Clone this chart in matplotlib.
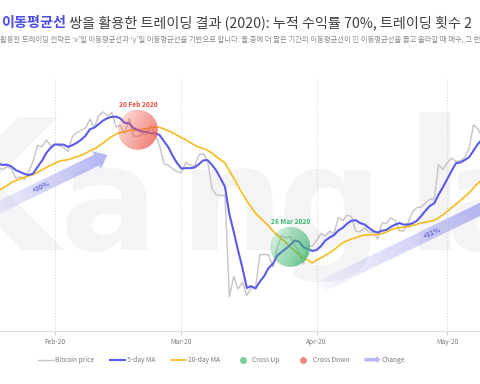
import numpy as np
import pandas as pd
import matplotlib
matplotlib.use('Agg')
import matplotlib.pyplot as plt
import matplotlib.dates as mdates
import matplotlib.patches as mpatches
import matplotlib.transforms as mtransforms
from matplotlib.lines import Line2D
from matplotlib.legend_handler import HandlerPatch

plt.rcParams['font.family'] = ['Noto Sans CJK KR', 'DejaVu Sans']

# daily bitcoin close (USD), 30 Dec 2019 .. 10 May 2020
price_dec = [7293, 7193]
price_jan = [7200, 6985, 7345, 7410, 7411, 7769, 8163, 8079, 7879, 8166,
             8037, 8192, 8144, 8827, 8807, 8723, 8929, 8942, 8706, 8658,
             8745, 8680, 8406, 8445, 8367, 8596, 8910, 9358, 9316, 9508, 9350]
price_feb = [9392, 9344, 9293, 9180, 9613, 9729, 9795, 9865, 10116, 9856,
             10208, 10326, 10214, 10312, 9889, 9934, 9690, 10141, 9633, 9608,
             9686, 9663, 9924, 9650, 9341, 8820, 8784, 8672, 8599]
price_mar = [8562, 8869, 8787, 8755, 9078, 9122, 8909, 8108, 7923, 7909,
             7911, 4970, 5563, 5200, 5392, 5014, 5225, 5238, 6191, 6198,
             6185, 5830, 6416, 6734, 6681, 6716, 6469, 6242, 5922, 6429, 6438]
price_apr = [6606, 6793, 6733, 6868, 6791, 7271, 7176, 7334, 7302, 6865,
             6859, 6971, 6845, 6842, 6642, 7116, 7096, 7257, 7189, 6881,
             6880, 7117, 7429, 7550, 7569, 7679, 7795, 7807, 8801, 8658]
price_may = [8864, 8988, 8897, 8912, 9003, 9268, 9951, 9842, 9593, 8756]

values = price_dec + price_jan + price_feb + price_mar + price_apr + price_may
prices = pd.Series(values, index=pd.date_range('2019-12-30', periods=len(values), freq='D'))
ma5 = prices.rolling(5).mean()
ma20 = prices.rolling(20).mean()

cross_down = '2020-02-20'
cross_up = '2020-03-26'
# (start date, start value), (end date, end value), label, label position along arrow
changes = [(('2020-01-15', 7310), ('2020-02-13', 9080), '+30%', 0.48),
           (('2020-04-02', 5270), ('2020-05-13', 7780), '+31%', 0.62)]

# watermark letters: (letter, left edge in px, font size)
watermark = [('K', -82, 130), ('a', 60, 105), ('n', 180, 105), ('g', 278, 105),
             ('l', 404, 130), ('a', 445, 105)]

fig = plt.figure(figsize=(4.8, 3.84), dpi=100)
ax = fig.add_axes([0, 0.138, 1, 0.659])
ax.set_xlim(pd.Timestamp('2020-01-19 09:00'), pd.Timestamp('2020-05-08 12:00'))
ax.set_ylim(3980, 11310)
ax.set_autoscale_on(False)

for ch, left, size in watermark:
    ax.text(left / 480, 0.32, ch, transform=ax.transAxes, fontsize=size,
            fontweight='bold', family='DejaVu Sans', color='#f4f4f6', va='baseline', zorder=0)

ax.plot(prices.index, prices.values, color='#c4c4c4', lw=1.0, zorder=2)
ax.plot(ma20.index, ma20.values, color='#f4bc1c', lw=1.2, zorder=3)
ax.plot(ma5.index, ma5.values, color='#5a5ae8', lw=1.5, zorder=3)

ident = mtransforms.IdentityTransform()
inv = ax.transData.inverted()


def to_px(date, value):
    return ax.transData.transform((mdates.date2num(pd.Timestamp(date)), value))


def glow(date, rgb, label, text_color):
    value = ma20[date]
    cx, cy = to_px(date, value)
    r = 20
    x0, y0 = inv.transform((cx - r, cy - r))
    x1, y1 = inv.transform((cx + r, cy + r))
    u = np.linspace(0, 1, 64)
    X, Y = np.meshgrid(u, u)
    t = 0.65 * X + 0.35 * (1 - Y)
    img = np.ones((64, 64, 4))
    img[..., :3] = rgb
    img[..., 3] = 0.15 + 0.7 * t
    im = ax.imshow(img, extent=(x0, x1, y0, y1), origin='lower', aspect='auto',
                   interpolation='bilinear', zorder=5)
    im.set_clip_path(mpatches.Circle((cx, cy), r, transform=ident))
    ax.annotate(label, (pd.Timestamp(date), value), xytext=(0, 18), textcoords='offset points',
                ha='center', va='center', fontsize=4.8, fontweight='bold', color=text_color, zorder=6)


glow(cross_down, (0.93, 0.35, 0.30), '20 Feb 2020', '#ee4b3e')
glow(cross_up, (0.25, 0.72, 0.44), '26 Mar 2020', '#35b46a')

for start, end, label, frac in changes:
    p0 = to_px(*start)
    p1 = to_px(*end)
    d = p1 - p0
    length = np.hypot(*d)
    u = d / length
    n = np.array([-u[1], u[0]])
    w, h, L = 6, 10, 12
    b = p1 - u * L
    poly = np.array([p0 + n * w, b + n * w, b + n * h, p1, b - n * h, b - n * w, p0 - n * w])
    xmin, ymin = poly.min(axis=0)
    xmax, ymax = poly.max(axis=0)
    gx, gy = np.meshgrid(np.linspace(xmin, xmax, 200), np.linspace(ymin, ymax, 200))
    proj = ((gx - p0[0]) * u[0] + (gy - p0[1]) * u[1]) / length
    img = np.ones((200, 200, 4))
    img[..., :3] = (0.49, 0.49, 0.92)
    img[..., 3] = 0.06 + 0.52 * np.clip(proj, 0, 1)
    dx0, dy0 = inv.transform((xmin, ymin))
    dx1, dy1 = inv.transform((xmax, ymax))
    im = ax.imshow(img, extent=(dx0, dx1, dy0, dy1), origin='lower', aspect='auto',
                   interpolation='bilinear', zorder=1.5)
    im.set_clip_path(mpatches.Polygon(poly, closed=True, transform=ident))
    tx, ty = inv.transform(p0 + d * frac)
    angle = np.degrees(np.arctan2(d[1], d[0]))
    ax.text(tx, ty, label, rotation=angle, rotation_mode='anchor', ha='center', va='center',
            fontsize=5, fontweight='bold', color='#6a6ad6', zorder=2)

ax.set_xlim(pd.Timestamp('2020-01-19 09:00'), pd.Timestamp('2020-05-08 12:00'))
ax.set_ylim(3980, 11310)

ax.xaxis.set_major_locator(mdates.MonthLocator())
ax.xaxis.set_major_formatter(mdates.DateFormatter('%b-%y'))
ax.grid(axis='x', ls=(0, (1, 2)), color='#d0d0d0', lw=0.7)
ax.set_yticks([])
for s in ['top', 'right', 'left']:
    ax.spines[s].set_visible(False)
ax.spines['bottom'].set_color('#dcdcdc')
ax.spines['bottom'].set_linewidth(0.8)
ax.tick_params(axis='x', length=3, color='#d0d0d0', labelsize=4.8, labelcolor='#7a7a7a', pad=2)

# title + subtitle
t1 = fig.text(0.002, 0.94, '이동평균선', color='#4b4be8', fontsize=10.2,
              fontweight='bold', va='center')
ax.annotate(' 쌍을 활용한 트레이딩 결과 (2020): 누적 수익률 70%, 트레이딩 횟수 2',
            xy=(1, 0.5), xycoords=t1, va='center', ha='left', color='#404040',
            fontsize=10.2, fontweight='medium', annotation_clip=False)
fig.text(0.0, 0.896, '활용한 트레이딩 전략은 ‘x’일 이동평균선과 ‘y’일 이동평균선을 기반으로 합니다. '
         '둘 중에 더 짧은 기간의 이동평균선이 긴 이동평균선을 뚫고 올라갈 때 매수, 그 반대일 때 매도합니다.',
         fontsize=5.3, color='#8a8a8a', va='center')

# legend
change_handle = mpatches.Patch(color='#b8b8f2')


def make_arrow(legend, orig_handle, xdescent, ydescent, width, height, fontsize):
    return mpatches.FancyArrow(-xdescent, height / 2 - ydescent, width, 0, width=height * 0.45,
                               head_width=height, head_length=height * 0.7,
                               length_includes_head=True, color='#b8b8f2', lw=0)


handles = [Line2D([], [], color='#c4c4c4', lw=1.0),
           Line2D([], [], color='#5a5ae8', lw=1.5),
           Line2D([], [], color='#f4bc1c', lw=1.2),
           Line2D([], [], ls='', marker='o', ms=5, mew=0, color=(0.25, 0.72, 0.44, 0.7)),
           Line2D([], [], ls='', marker='o', ms=5, mew=0, color=(0.93, 0.35, 0.30, 0.7)),
           change_handle]
labels = ['Bitcoin price', '5-day MA', '20-day MA', 'Cross Up', 'Cross Down', 'Change']
fig.legend(handles, labels, loc='center', bbox_to_anchor=(0.462, 0.0625), ncol=6,
           frameon=False, fontsize=4.8, handlelength=2.2, handletextpad=0.3,
           columnspacing=2.4, labelcolor='#7a7a7a',
           handler_map={change_handle: HandlerPatch(patch_func=make_arrow)})

fig.savefig('out.png', dpi=100)
